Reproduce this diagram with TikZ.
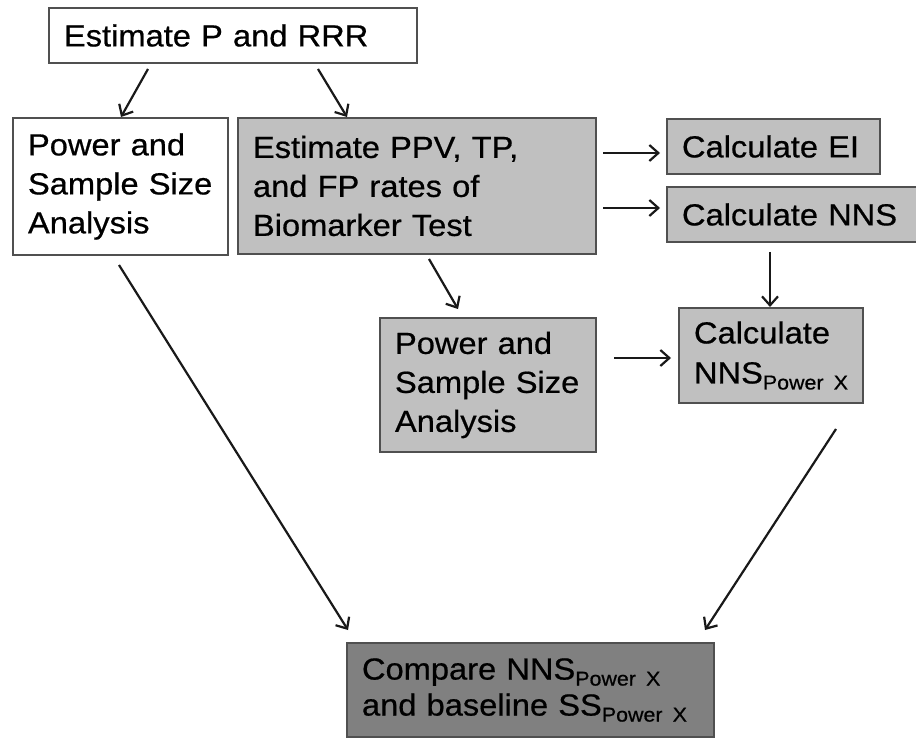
\documentclass[tikz,border=0pt]{standalone}
\usepackage{fontspec}
\setmainfont{Liberation Sans}[FakeStretch=1.07,FakeBold=0.6]
\usetikzlibrary{arrows.meta,calc}
\definecolor{lgray}{RGB}{192,192,192}
\definecolor{dgray}{RGB}{128,128,128}
\definecolor{edge}{RGB}{80,80,80}
\definecolor{arrc}{RGB}{25,25,25}
\newcommand{\subpx}[1]{\raisebox{-6pt}{\fontsize{20}{20}\selectfont #1}}
\begin{document}
\begin{tikzpicture}[x=1pt,y=-1pt,
  box/.style={draw=edge, line width=2pt, rectangle, anchor=north west, outer sep=0pt,
    inner xsep=15pt, inner ysep=0pt, align=left,
    font=\fontsize{30.5}{39}\selectfont},
  graybox/.style={box, fill=lgray},
  darkbox/.style={box, fill=dgray},
  arr/.style={draw=arrc, line width=2.2pt, -{Straight Barb[length=9pt,width=16pt,line width=2.2pt]}}
]
\useasboundingbox[fill=white] (0,0) rectangle (916,738);
\node[box, text width=338pt, minimum height=55pt] (p1) at (49,8) {Estimate P and RRR};
\node[box, text width=185pt, minimum height=137pt] (ps1) at (13,118) {Power and\\Sample Size\\Analysis};
\node[graybox, text width=328pt, minimum height=136pt] (est) at (238,118) {Estimate PPV, TP,\\and FP rates of\\Biomarker Test};
\node[graybox, text width=183pt, minimum height=55pt] (ei) at (667,119) {Calculate EI};
\node[graybox, text width=235pt, minimum height=55pt] (nns) at (667,187) {Calculate NNS};
\node[graybox, text width=186pt, minimum height=134pt] (ps2) at (380,318) {Power and\\Sample Size\\Analysis};
\node[graybox, text width=154pt, minimum height=95pt, font=\fontsize{30.5}{40}\selectfont] (cnp) at (679,308) {Calculate\\NNS\subpx{Power X}};
\node[darkbox, text width=337pt, minimum height=94pt, font=\fontsize{30.5}{36}\selectfont] (cmp) at (347,643) {Compare NNS\subpx{Power X}\\and baseline SS\subpx{Power X}};

\draw[arr] ([shift={(99,6)}]p1.south west) -- ([shift={(108,-1)}]ps1.north west);
\draw[arr] ([shift={(269,6)}]p1.south west) -- ([shift={(109,-1)}]est.north west);
\draw[arr] ([shift={(7,35)}]est.north east) -- ([shift={(-7,34)}]ei.north west);
\draw[arr] ([shift={(7,90)}]est.north east) -- ([shift={(-7,21)}]nns.north west);
\draw[arr] ([shift={(103,10)}]nns.south west) -- ([shift={(91,-1)}]cnp.north west);
\draw[arr] ([shift={(191,5)}]est.south west) -- ([shift={(78,-9)}]ps2.north west);
\draw[arr] ([shift={(18,40)}]ps2.north east) -- ([shift={(-8,50)}]cnp.north west);
\draw[arr] ([shift={(106,10)}]ps1.south west) -- ([shift={(1,-13)}]cmp.north west);
\draw[arr] ([shift={(157,26)}]cnp.south west) -- ([shift={(-9,-13)}]cmp.north east);
\end{tikzpicture}
\end{document}
